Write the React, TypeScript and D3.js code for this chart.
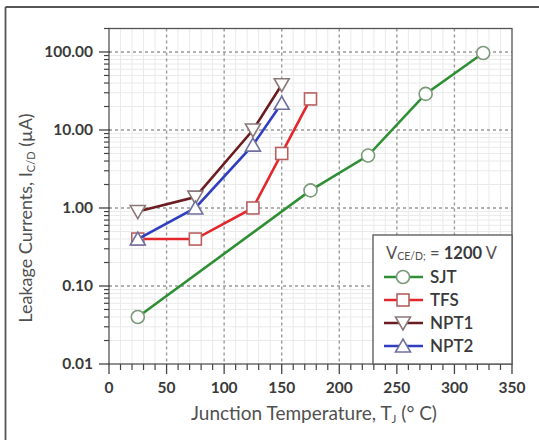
import React from "react";
import * as d3 from "d3";

const temps = [0, 50, 100, 150, 200, 250, 300, 350];
const yTicks = [0.01, 0.1, 1, 10, 100];
const yTickLabels = ["0.01", "0.10", "1.00", "10.00", "100.00"];

const sjtT = [25, 175, 225, 275, 325];
const sjtI = [0.04, 1.68, 4.7, 29, 97];
const tfsT = [25, 75, 125, 150, 175];
const tfsI = [0.4, 0.4, 1.0, 5.0, 25];
const npt1T = [25, 75, 125, 150];
const npt1I = [0.9, 1.38, 10, 38];
const npt2T = [25, 75, 125, 150];
const npt2I = [0.4, 1.0, 6.4, 22];

const seriesNames = ["SJT", "TFS", "NPT1", "NPT2"];

type Series = { name: string; t: number[]; v: number[]; color: string; mstroke: string; marker: string };

const series: Series[] = [
  { name: seriesNames[0], t: sjtT, v: sjtI, color: "#2e8f35", mstroke: "#7a9a7a", marker: "circle" },
  { name: seriesNames[1], t: tfsT, v: tfsI, color: "#e2282c", mstroke: "#b86060", marker: "square" },
  { name: seriesNames[2], t: npt1T, v: npt1I, color: "#6a1c20", mstroke: "#8a7878", marker: "down" },
  { name: seriesNames[3], t: npt2T, v: npt2I, color: "#2f3fbf", mstroke: "#7070a0", marker: "up" },
];

const FONT = "Lato, 'Open Sans', sans-serif";

function Marker({ kind, x, y, stroke }: { kind: string; x: number; y: number; stroke: string }) {
  const sw = 1.6;
  if (kind === "circle") return <circle cx={x} cy={y} r={6.5} fill="#fff" stroke={stroke} strokeWidth={sw} />;
  if (kind === "square") return <rect x={x - 6} y={y - 6} width={12} height={12} fill="#fff" stroke={stroke} strokeWidth={sw} />;
  if (kind === "down") {
    const p = [[x - 7.5, y - 6], [x + 7.5, y - 6], [x, y + 7]];
    return <polygon points={p.map((q) => q.join(",")).join(" ")} fill="#fff" stroke={stroke} strokeWidth={sw} />;
  }
  const p = [[x - 7.5, y + 6], [x + 7.5, y + 6], [x, y - 7]];
  return <polygon points={p.map((q) => q.join(",")).join(" ")} fill="#fff" stroke={stroke} strokeWidth={sw} />;
}

export default function App() {
  const W = 539, H = 440;
  const left = 109, right = 512, top = 28.5, bottom = 364;
  const x = d3.scaleLinear().domain([0, 350]).range([left, right]);
  const y = d3.scaleLog().domain([0.01, 200]).range([bottom, top]);

  const minorX = d3.range(0, 351, 10).filter((v) => v % 50 !== 0);
  const minorY: number[] = [];
  for (const dec of [0.01, 0.1, 1, 10, 100]) {
    for (let k = 2; k <= 9; k++) {
      const v = dec * k;
      if (v <= 200) minorY.push(v);
    }
  }

  const line = d3
    .line<[number, number]>()
    .x((d) => x(d[0]))
    .y((d) => y(d[1]));

  const lg = { x0: 373, y0: 235 };
  const legendRows = [277, 300, 323, 346];

  return (
    <svg width={W} height={H} style={{ position: "absolute", left: 0, top: 0 }} fontFamily={FONT}>
      <rect x={0} y={0} width={W} height={H} fill="#fff" />
      {/* outer frame */}
      <line x1={5.5} y1={7} x2={5.5} y2={H} stroke="#555" strokeWidth={1.8} />
      <line x1={5.5} y1={7} x2={W} y2={7} stroke="#555" strokeWidth={1.8} />

      {/* minor grid */}
      {minorX.map((v) => (
        <line key={"mx" + v} x1={x(v)} x2={x(v)} y1={top} y2={bottom} stroke="#eaeaea" strokeWidth={1} />
      ))}
      {minorY.map((v, i) => (
        <line key={"my" + i} x1={left} x2={right} y1={y(v)} y2={y(v)} stroke="#eaeaea" strokeWidth={1} />
      ))}
      {/* major grid */}
      {temps.slice(1, -1).map((v) => (
        <line key={"gx" + v} x1={x(v)} x2={x(v)} y1={top} y2={bottom} stroke="#999" strokeWidth={1.4} strokeDasharray="3,3" />
      ))}
      {yTicks.slice(1).map((v) => (
        <line key={"gy" + v} x1={left} x2={right} y1={y(v)} y2={y(v)} stroke="#999" strokeWidth={1.4} strokeDasharray="3,3" />
      ))}

      {/* plot border */}
      <rect x={left} y={top} width={right - left} height={bottom - top} fill="none" stroke="#555" strokeWidth={1.3} />

      {/* x ticks */}
      {minorX.map((v) => (
        <line key={"tx" + v} x1={x(v)} x2={x(v)} y1={bottom} y2={bottom + 6} stroke="#444" strokeWidth={1.2} />
      ))}
      {temps.map((v) => (
        <line key={"Tx" + v} x1={x(v)} x2={x(v)} y1={bottom} y2={bottom + 10} stroke="#444" strokeWidth={1.3} />
      ))}
      {temps.map((v) => (
        <text key={"lx" + v} x={x(v)} y={393} textAnchor="middle" fontSize={15.5} fontWeight={700} fill="#3a3a3a">
          {v}
        </text>
      ))}

      {/* y ticks */}
      {minorY.map((v, i) => (
        <line key={"ty" + i} x1={left - 5} x2={left} y1={y(v)} y2={y(v)} stroke="#444" strokeWidth={1.2} />
      ))}
      {yTicks.map((v) => (
        <line key={"Ty" + v} x1={left - 10} x2={left + 1} y1={y(v)} y2={y(v)} stroke="#444" strokeWidth={1.3} />
      ))}
      {yTicks.map((v, i) => (
        <text key={"ly" + v} x={93} y={y(v) + 5} textAnchor="end" fontSize={15.5} fontWeight={700} fill="#3a3a3a">
          {yTickLabels[i]}
        </text>
      ))}

      {/* axis titles */}
      <text x={314} y={420} textAnchor="middle" fontSize={19} fill="#505050">
        Junction Temperature, T
        <tspan fontSize={11.5} dy={3}>J</tspan>
        <tspan dy={-3}> (° C)</tspan>
      </text>
      <text transform="translate(32,218) rotate(-90)" textAnchor="middle" fontSize={18} fill="#505050">
        Leakage Currents, I
        <tspan fontSize={11} dy={3}>C/D</tspan>
        <tspan dy={-3}> (µA)</tspan>
      </text>

      {/* series */}
      {series.map((s) => {
        const pts: [number, number][] = s.t.map((t, i) => [t, s.v[i]]);
        return (
          <g key={s.name}>
            <path d={line(pts) || ""} fill="none" stroke={s.color} strokeWidth={2.6} />
            {pts.map((p, i) => (
              <Marker key={i} kind={s.marker} x={x(p[0])} y={y(p[1])} stroke={s.mstroke} />
            ))}
          </g>
        );
      })}

      {/* legend */}
      <rect x={lg.x0} y={lg.y0} width={right - lg.x0} height={bottom - lg.y0} fill="#fff" stroke="#555" strokeWidth={1.3} />
      <text x={386} y={259} fontSize={16.5} fill="#505050">
        V
        <tspan fontSize={10.5} dy={1}>CE/D;</tspan>
        <tspan dy={-1}> = </tspan>
        <tspan fontWeight={700} fill="#3a3a3a">1200</tspan>
        <tspan> V</tspan>
      </text>
      {series.map((s, i) => (
        <g key={"lg" + s.name}>
          <line x1={384} x2={423} y1={legendRows[i]} y2={legendRows[i]} stroke={s.color} strokeWidth={2.6} />
          <Marker kind={s.marker} x={403} y={legendRows[i]} stroke={s.mstroke} />
          <text x={430} y={legendRows[i] + 6} fontSize={17} fontWeight={600} fill="#3a3a3a">
            {s.name}
          </text>
        </g>
      ))}
    </svg>
  );
}
